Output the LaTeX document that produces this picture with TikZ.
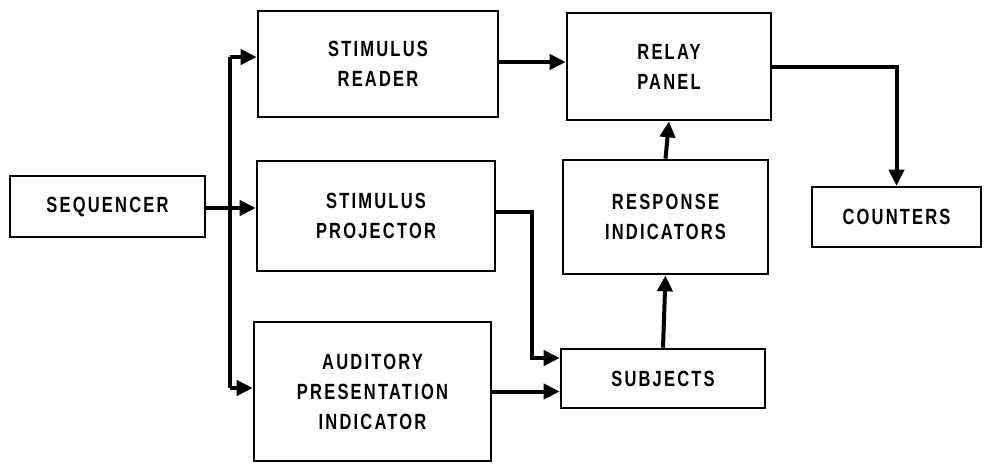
\documentclass[tikz,border=0pt]{standalone}
\usepackage{fontspec}
\newfontfamily\lblfont{Liberation Sans}[FakeStretch=0.75,LetterSpace=10]
\usetikzlibrary{arrows.meta}
\tikzset{
  blockbox/.style={draw=black, line width=2.6pt, fill=white, align=center,
    inner sep=0pt, font=\lblfont\bfseries\fontsize{22}{30}\selectfont},
  flow/.style={line width=4pt, -{Triangle[length=16pt,width=15pt]}},
  plain/.style={line width=4pt}
}
\begin{document}
\begin{tikzpicture}[x=1pt,y=-1pt]
\useasboundingbox (0,0) rectangle (984,464);
\node[blockbox, minimum width=195pt, minimum height=61pt] (seq) at (107.5,206.5) {SEQUENCER};
\node[blockbox, minimum width=240pt, minimum height=106pt] (rdr) at (378,64) {STIMULUS\\READER};
\node[blockbox, minimum width=204pt, minimum height=107pt] (rly) at (669,66.5) {RELAY\\PANEL};
\node[blockbox, minimum width=238pt, minimum height=110pt] (proj) at (376,216) {STIMULUS\\PROJECTOR};
\node[blockbox, minimum width=205pt, minimum height=114pt] (resp) at (665.5,217) {RESPONSE\\INDICATORS};
\node[blockbox, minimum width=169pt, minimum height=60pt] (cnt) at (896.5,217) {COUNTERS};
\node[blockbox, minimum width=237pt, minimum height=139pt] (aud) at (372.5,391.5) {AUDITORY\\PRESENTATION\\INDICATOR};
\node[blockbox, minimum width=204pt, minimum height=59pt] (subj) at (663,378.5) {SUBJECTS};

\coordinate (bt) at (230,57);
\coordinate (bb) at (230,388);
\coordinate (pj) at (532,212);

% sequencer bus
\draw[plain] (bt) -- (bb);
\draw[flow] ([yshift=-1.5pt]seq.east) -- ([yshift=-1.5pt]seq.east -| proj.west);
\draw[flow] (bt) -- (bt -| rdr.west);
\draw[flow] (bb) -- (bb -| aud.west);

% reader to relay
\draw[flow] ([yshift=2pt]rdr.east) -- ([yshift=2pt]rdr.east -| rly.west);
% relay to counters
\draw[flow] (rly.east) -| (cnt.north);
% projector to subjects
\draw[flow] ([yshift=4pt]proj.east) -- (pj) |- ([yshift=20.5pt]subj.west);
% auditory to subjects
\draw[flow] (aud.east) -- (aud.east -| subj.west);
% subjects to response, response to relay
\draw[flow] (subj.north) -- (resp.south);
\draw[flow] (resp.north) -- (rly.south);
\end{tikzpicture}
\end{document}
